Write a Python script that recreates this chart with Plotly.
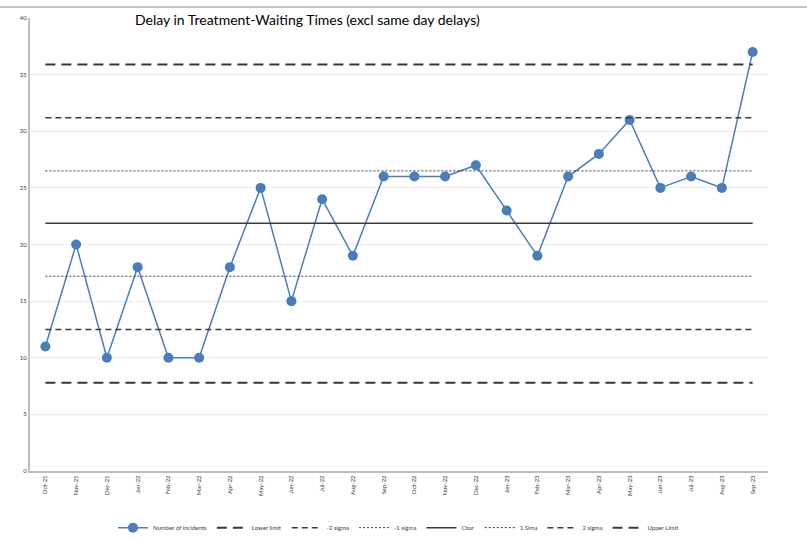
import plotly.graph_objects as go

months = ["Oct-21", "Nov-21", "Dec-21", "Jan-22", "Feb-22", "Mar-22", "Apr-22", "May-22",
          "Jun-22", "Jul-22", "Aug-22", "Sep-22", "Oct-22", "Nov-22", "Dec-22", "Jan-23",
          "Feb-23", "Mar-23", "Apr-23", "May-23", "Jun-23", "Jul-23", "Aug-23", "Sep-23"]
incidents = [11, 20, 10, 18, 10, 10, 18, 25, 15, 24, 19, 26, 26, 26, 27, 23,
             19, 26, 28, 31, 25, 26, 25, 37]

# Control limits (mean and sigma bands)
lower_limit = 7.8
minus_2_sigma = 12.5
minus_1_sigma = 17.2
cbar = 21.875
plus_1_sigma = 26.5
plus_2_sigma = 31.2
upper_limit = 35.9

line_col = "#3a3a3a"
fig = go.Figure()

fig.add_trace(go.Scatter(x=months, y=incidents, name="Number of incidents", mode="lines+markers",
                         line=dict(color="#4a7ebb", width=1.5),
                         marker=dict(color="#4a7ebb", size=10)))

limits = [
    ("Lower limit", lower_limit, "10px,6px", 2),
    ("-2 sigma", minus_2_sigma, "6px,4px", 1.5),
    ("-1 sigma", minus_1_sigma, "2px,2px", 1),
    ("Cbar", cbar, "solid", 1.5),
    ("1 Sima", plus_1_sigma, "2px,2px", 1),
    ("2 sigma", plus_2_sigma, "6px,4px", 1.5),
    ("Upper Limit", upper_limit, "10px,6px", 2),
]
for name, val, dash, w in limits:
    fig.add_trace(go.Scatter(x=months, y=[val] * len(months), name=name, mode="lines",
                             line=dict(color=line_col, width=w, dash=dash)))

fig.add_shape(type="line", xref="paper", yref="paper", x0=-0.05, x1=1.06, y0=1.0243, y1=1.0243,
              line=dict(color="#8c8c8c", width=1))

fig.update_layout(
    width=807, height=538,
    margin=dict(l=30, r=39, t=18, b=67, autoexpand=False),
    paper_bgcolor="white", plot_bgcolor="white",
    font=dict(family="Lato, Liberation Sans, sans-serif", color="#404040"),
    title=dict(text="Delay in Treatment-Waiting Times (excl same day delays)",
               x=135 / 807, xanchor="left", y=1 - 20 / 538, yanchor="middle",
               font=dict(family="Lato, Liberation Sans, sans-serif", size=14, color="#000000",
                         weight=400)),
    showlegend=True,
    legend=dict(orientation="h", x=0.5, xanchor="center", y=-0.125, yanchor="middle",
                font=dict(size=6, color="#404040"), itemwidth=30, tracegroupgap=0),
    xaxis=dict(tickangle=-90, tickfont=dict(size=6, color="#404040"), showgrid=False, showline=True,
               linecolor="#bfbfbf", linewidth=2, ticks="", range=[-0.5, 23.5]),
    yaxis=dict(range=[0, 40], dtick=5, tickfont=dict(size=6, color="#404040"), showgrid=True,
               gridcolor="#ececec", gridwidth=1, showline=True, linecolor="#bfbfbf", linewidth=2,
               ticks="", zeroline=False),
)

fig.write_html("out.html")
